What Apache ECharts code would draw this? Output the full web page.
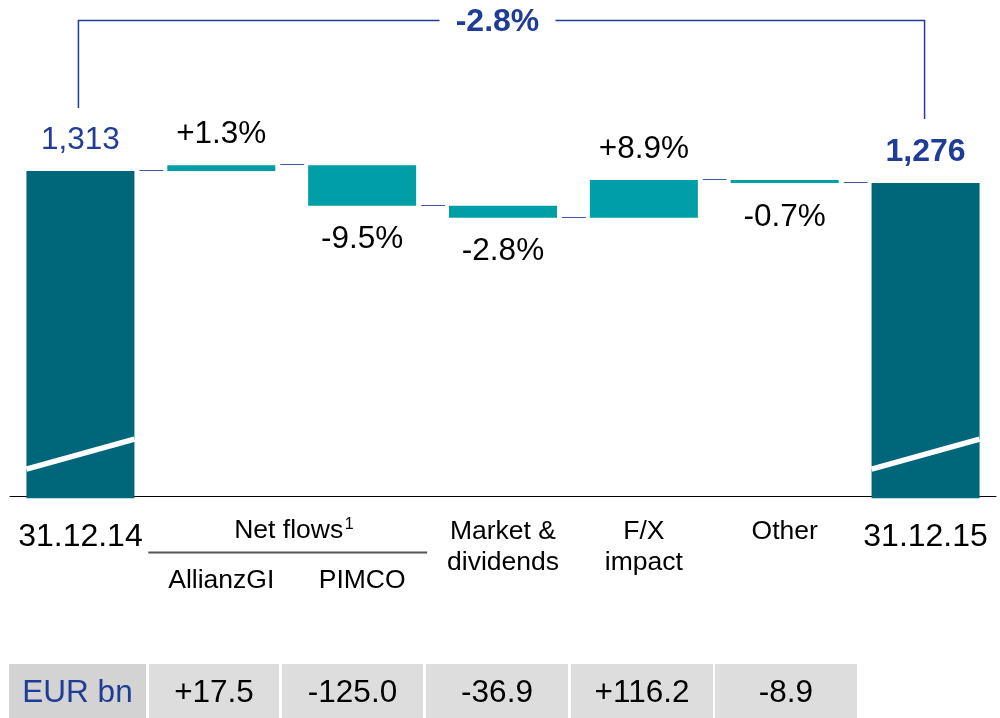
<!DOCTYPE html>
<html><head><meta charset="utf-8">
<script src="https://cdn.jsdelivr.net/npm/echarts@6/dist/echarts.min.js"></script>
<style>html,body{margin:0;padding:0;background:#fff}#c{width:1000px;height:718px}</style>
</head><body><div id="c"></div>
<script>
// ---- data ----
const categories = ['31.12.14', 'AllianzGI', 'PIMCO', 'Market &\ndividends', 'F/X\nimpact', 'Other', '31.12.15'];
const startTotal = 1313;
const endTotal = 1276;
const changes = [17.5, -125.0, -36.9, 116.2, -8.9];
const changePct = ['+1.3%', '-9.5%', '-2.8%', '+8.9%', '-0.7%'];
const totalChangePct = '-2.8%';
const breakValues = [390, 483];   // value of the axis-break stripe at bar left / right edge
const tableHeader = 'EUR bn';
const groupLabel = 'Net flows';
const groupNote = '1';

// ---- style ----
const FONT = "'Liberation Sans', Arial, Helvetica, sans-serif";
const BLUE = '#1f3c96';
const DARK = '#00667a';
const TEAL = '#009ea7';
const BARW = 108;

const running = [startTotal];
changes.forEach(c => running.push(running[running.length - 1] + c));

const n = categories.length;
const totals = categories.map((_, i) => i === 0 ? startTotal : (i === n - 1 ? endTotal : '-'));
const helper = categories.map((_, i) => (i === 0 || i === n - 1) ? '-' : Math.min(running[i - 1], running[i]));
const delta = categories.map((_, i) => {
  if (i === 0 || i === n - 1) return '-';
  const c = changes[i - 1];
  return { value: Math.abs(c), label: { position: c >= 0 ? 'top' : 'bottom', distance: c >= 0 ? 15 : 18, formatter: changePct[i - 1] } };
});
const fmt = v => v.toLocaleString('en-US');

const chart = echarts.init(document.getElementById('c'), null, { renderer: 'canvas' });
const option = {
  animation: false,
  backgroundColor: '#fff',
  grid: { left: 10, right: 4, top: 13.7, bottom: 219.8, containLabel: false },
  xAxis: {
    type: 'category', data: categories, offset: -2,
    axisLine: { lineStyle: { color: '#000', width: 1 } },
    axisTick: { show: false }, axisLabel: { show: false }
  },
  yAxis: { type: 'value', min: 300, max: 1800, show: false },
  series: [
    {
      type: 'bar', stack: 'wf', barWidth: BARW, z: 2,
      itemStyle: { color: DARK },
      data: totals.map((v, i) => v === '-' ? '-' : {
        value: v,
        label: {
          show: true, position: 'top', distance: 15, formatter: fmt(v),
          fontSize: i === n - 1 ? 32 : 31.5, fontFamily: FONT, color: BLUE, fontWeight: i === n - 1 ? 'bold' : 'normal'
        }
      })
    },
    {
      type: 'bar', stack: 'wf', barWidth: BARW, z: 2,
      itemStyle: { color: 'rgba(0,0,0,0)' },
      data: helper
    },
    {
      type: 'bar', stack: 'wf', barWidth: BARW, z: 2,
      itemStyle: { color: TEAL },
      label: { show: true, fontSize: 31.5, fontFamily: FONT, color: '#000' },
      data: delta
    },
    {
      // break stripes on total bars
      type: 'custom', z: 5, clip: false,
      data: [[0, breakValues[0], breakValues[1]], [n - 1, breakValues[0], breakValues[1]]],
      renderItem(params, api) {
        const p1 = api.coord([api.value(0), api.value(1)]);
        const p2 = api.coord([api.value(0), api.value(2)]);
        return { type: 'line', shape: { x1: p1[0] - BARW / 2, y1: p1[1], x2: p2[0] + BARW / 2, y2: p2[1] },
                 style: { stroke: '#fff', lineWidth: 5.5 } };
      }
    },
    {
      // connectors between bars
      type: 'custom', z: 4, clip: false,
      data: running.map((v, i) => [i, v]),
      renderItem(params, api) {
        const a = api.coord([api.value(0), api.value(1)]);
        const b = api.coord([api.value(0) + 1, api.value(1)]);
        const y = Math.round(a[1] - 1) + 0.5;
        return { type: 'line', shape: { x1: a[0] + BARW / 2 + 5, y1: y, x2: b[0] - BARW / 2 - 4, y2: y },
                 style: { stroke: '#4558a8', lineWidth: 1 } };
      }
    }
  ]
};
chart.setOption(option);

const px = i => chart.convertToPixel({ xAxisIndex: 0 }, i);
const py = v => chart.convertToPixel({ yAxisIndex: 0 }, v);
const txt = (text, x, y, size, opts) => Object.assign({
  type: 'text', x, y, silent: true,
  style: Object.assign({ text, fontSize: size, fontFamily: FONT, fill: '#000', align: 'center', verticalAlign: 'middle' }, opts || {})
});

const g = [];
// top bracket
const x0 = px(0) - 2, x6 = px(n - 1) - 1, yTop = 20.5;
const xm = (x0 + x6) / 2 - 4;
g.push({ type: 'polyline', silent: true, shape: { points: [[x0, py(startTotal) - 63], [x0, yTop], [xm - 58, yTop]] },
         style: { stroke: BLUE, lineWidth: 1.5, fill: null } });
g.push({ type: 'polyline', silent: true, shape: { points: [[xm + 58, yTop], [x6, yTop], [x6, py(endTotal) - 64]] },
         style: { stroke: BLUE, lineWidth: 1.5, fill: null } });
g.push(txt(totalChangePct, xm, 22, 32, { fill: BLUE, fontWeight: 'bold' }));

// category labels
g.push(txt(categories[0], px(0), 537, 32));
g.push(txt(categories[n - 1], px(n - 1), 537, 32));
g.push(txt(groupLabel, (px(1) + px(2)) / 2 - 3, 531, 26.5));
g.push(txt(groupNote, (px(1) + px(2)) / 2 + 53, 525, 16, { align: 'left' }));
g.push({ type: 'line', silent: true, shape: { x1: px(1) - 73, y1: 552.5, x2: px(2) + 65, y2: 552.5 },
         style: { stroke: '#555', lineWidth: 2 } });
g.push(txt(categories[1], px(1), 581, 26.5));
g.push(txt(categories[2], px(2), 581, 26.5));
[3, 4, 5].forEach(i => {
  categories[i].split('\n').forEach((line, k) => g.push(txt(line, px(i), 531.5 + k * 31, 26.5)));
});

// table
const cells = [[9, 146], [149, 279], [282, 423], [426, 568], [571, 713], [715, 857]];
const tableTexts = [tableHeader].concat(changes.map(c => (c > 0 ? '+' : '') + c.toFixed(1)));
cells.forEach((c, k) => {
  g.push({ type: 'rect', silent: true, shape: { x: c[0], y: 664, width: c[1] - c[0], height: 60 },
           style: { fill: k === 0 ? '#d3d3d3' : '#dddddd' } });
  g.push(txt(tableTexts[k], (c[0] + c[1]) / 2, 693.5, 31.5, { fill: k === 0 ? BLUE : '#000' }));
});

chart.setOption({ graphic: { elements: g } });
</script>
</body></html>
